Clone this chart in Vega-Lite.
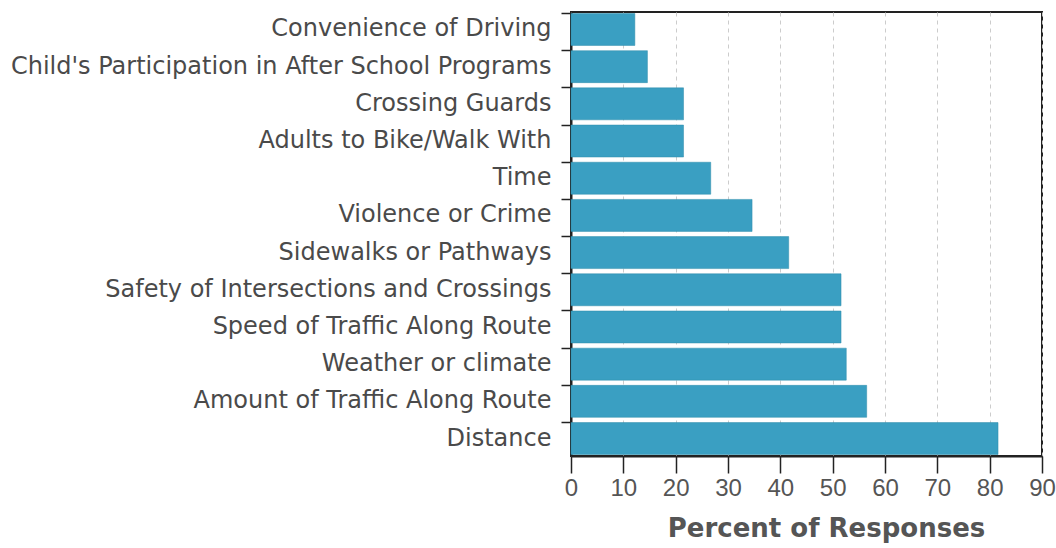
{
  "$schema": "https://vega.github.io/schema/vega-lite/v6.json",
  "autosize": {"type": "none"},
  "width": 471,
  "height": 444,
  "padding": {"left": 571, "top": 12, "right": 14, "bottom": 92},
  "background": "#ffffff",
  "config": {
    "view": {"stroke": "#222222", "strokeWidth": 2},
    "font": "Liberation Sans"
  },
  "data": {
    "values": [
      {"reason": "Convenience of Driving", "percent": 12.2},
      {"reason": "Child's Participation in After School Programs", "percent": 14.6},
      {"reason": "Crossing Guards", "percent": 21.5},
      {"reason": "Adults to Bike/Walk With", "percent": 21.5},
      {"reason": "Time", "percent": 26.7},
      {"reason": "Violence or Crime", "percent": 34.6},
      {"reason": "Sidewalks or Pathways", "percent": 41.6},
      {"reason": "Safety of Intersections and Crossings", "percent": 51.6},
      {"reason": "Speed of Traffic Along Route", "percent": 51.6},
      {"reason": "Weather or climate", "percent": 52.6},
      {"reason": "Amount of Traffic Along Route", "percent": 56.5},
      {"reason": "Distance", "percent": 81.6}
    ]
  },
  "mark": {"type": "bar", "color": "#3a9fc2", "stroke": "#2f8cab", "strokeWidth": 0.5},
  "encoding": {
    "y": {
      "field": "reason",
      "type": "nominal",
      "sort": null,
      "scale": {"paddingInner": 0.14, "paddingOuter": 0.04},
      "axis": {
        "title": null,
        "bandPosition": 0,
        "ticks": true,
        "tickSize": 10,
        "tickColor": "#222222",
        "tickWidth": 1.5,
        "domainColor": "#222222",
        "domainWidth": 2,
        "labelFont": "DejaVu Sans",
        "labelFontSize": 24,
        "labelColor": "#4a4a4a",
        "labelPadding": 10,
        "labelLimit": 600,
        "grid": false
      }
    },
    "x": {
      "field": "percent",
      "type": "quantitative",
      "scale": {"domain": [0, 90], "nice": false},
      "axis": {
        "title": "Percent of Responses",
        "values": [0, 10, 20, 30, 40, 50, 60, 70, 80, 90],
        "grid": true,
        "gridDash": [4, 4],
        "gridColor": "#cccccc",
        "gridWidth": 1,
        "tickSize": 17,
        "tickColor": "#222222",
        "tickWidth": 1.5,
        "domainColor": "#222222",
        "domainWidth": 2,
        "labelFont": "Liberation Sans",
        "labelFontSize": 24,
        "labelColor": "#555555",
        "labelPadding": 3,
        "labelFlush": false,
        "titleFont": "DejaVu Sans",
        "titleFontWeight": "bold",
        "titleFontSize": 26,
        "titleColor": "#555555",
        "titleX": 255,
        "titleY": 80,
        "titleBaseline": "alphabetic"
      }
    }
  }
}
